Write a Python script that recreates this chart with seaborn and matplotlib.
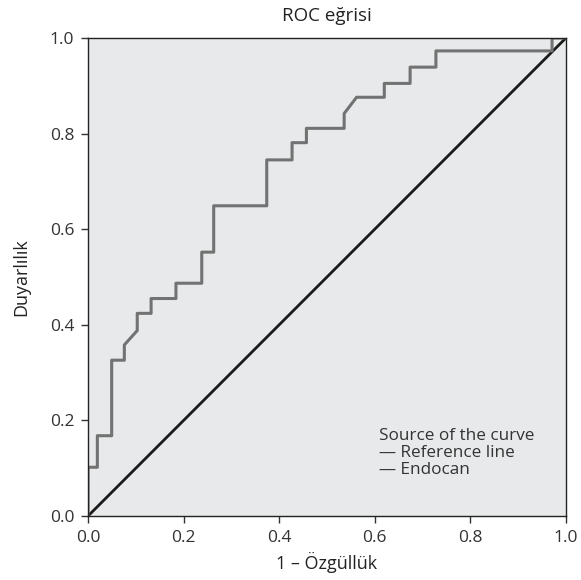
import pandas as pd
import matplotlib
matplotlib.use("Agg")
import matplotlib.pyplot as plt
import seaborn as sns

# ROC egrisi koordinatlari
fpr = [0.0, 0.0, 0.0195, 0.0195, 0.0495, 0.0495, 0.076, 0.076, 0.103, 0.103,
       0.132, 0.132, 0.184, 0.184, 0.238, 0.238, 0.263, 0.263, 0.374, 0.374,
       0.427, 0.427, 0.457, 0.457, 0.536, 0.536, 0.562, 0.620, 0.620, 0.674,
       0.674, 0.728, 0.728, 0.971, 0.971, 1.0]
tpr = [0.0, 0.102, 0.102, 0.168, 0.168, 0.326, 0.326, 0.358, 0.388, 0.424,
       0.424, 0.455, 0.455, 0.487, 0.487, 0.552, 0.552, 0.649, 0.649, 0.745,
       0.745, 0.781, 0.781, 0.811, 0.811, 0.842, 0.876, 0.876, 0.905, 0.905,
       0.939, 0.939, 0.973, 0.973, 1.0, 1.0]
ref_x = [0.0, 1.0]
ref_y = [0.0, 1.0]
ticks = [0.0, 0.2, 0.4, 0.6, 0.8, 1.0]
tick_labels = ['0.0', '0.2', '0.4', '0.6', '0.8', '1.0']

df = pd.DataFrame({'x': fpr, 'y': tpr})
df_ref = pd.DataFrame({'x': ref_x, 'y': ref_y})

sns.set_style('ticks')
plt.rcParams['font.family'] = ['Open Sans', 'DejaVu Sans']

fig = plt.figure(figsize=(5.81, 5.80), dpi=100)
ax = fig.add_axes([0.1515, 0.1103, 0.8225, 0.8242])
ax.set_facecolor('#e8e9ea')

# esitlik (referans) cizgisi ve Endocan egrisi
sns.lineplot(data=df_ref, x='x', y='y', color='#1a1a1a', linewidth=2,
             sort=False, estimator=None, ax=ax)
sns.lineplot(data=df, x='x', y='y', color='#727272', linewidth=2.2,
             sort=False, estimator=None, ax=ax)

ax.set_xlim(0, 1)
ax.set_ylim(0, 1)
ax.set_xticks(ticks)
ax.set_xticklabels(tick_labels)
ax.set_yticks(ticks)
ax.set_yticklabels(tick_labels)
ax.tick_params(direction='out', length=5, width=1, pad=5, color='#333333',
               labelcolor='#333333', labelsize=12.5)
for s in ax.spines.values():
    s.set_visible(True)
    s.set_color('#222222')
    s.set_linewidth(1)

ax.set_xlabel('1 – Özgüllük', fontsize=13, color='#222222', labelpad=4)
ax.set_ylabel('Duyarlılık', fontsize=13, color='#222222', labelpad=14)
ax.set_title('ROC eğrisi', fontsize=13.5, color='#222222', pad=12)

ax.text(0.609, 0.132, 'Source of the curve\n— Reference line\n— Endocan',
        transform=ax.transAxes, fontsize=12.3, color='#333333', va='center',
        linespacing=1.1)

fig.savefig('out.png', dpi=100)
